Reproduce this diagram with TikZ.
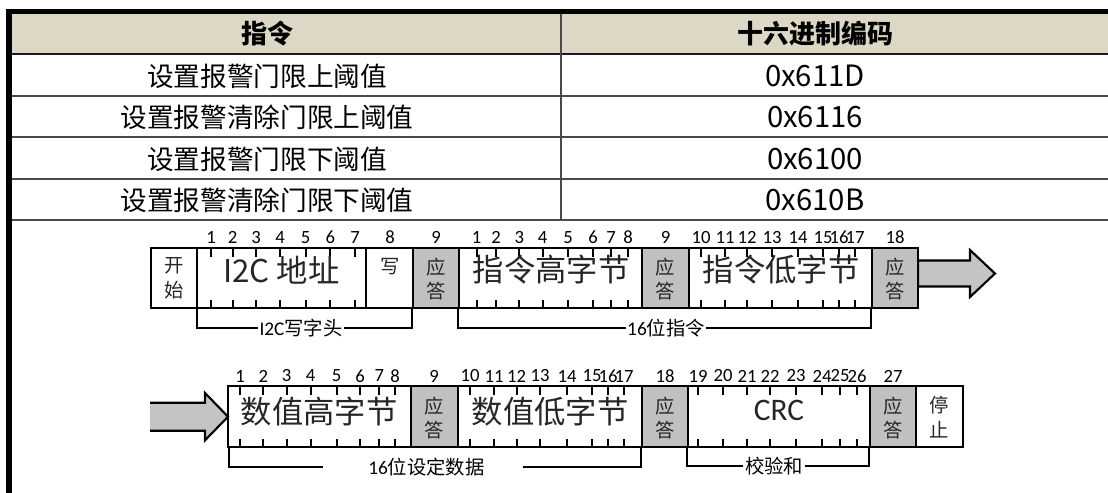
\documentclass[tikz,border=0pt]{standalone}
\usepackage{fontspec}
\setmainfont{Carlito}
\newfontfamily\cjk{Noto Sans CJK SC}
\usetikzlibrary{fit}
\definecolor{hdr}{HTML}{DDD8C5}
\definecolor{ackgray}{HTML}{C0C0C0}
\definecolor{arrgray}{HTML}{C4C4C4}
\definecolor{rulegray}{HTML}{4A4A4A}
\newcommand{\fsz}[1]{\fontsize{#1}{#1}\selectfont}
\begin{document}
\begin{tikzpicture}[x=0.75pt,y=-0.75pt,
  box/.style={draw=black, line width=1.6pt, inner sep=0pt},
  ackbox/.style={box, fill=ackgray},
  tick/.style={line width=1.5pt},
  brk/.style={line width=1.5pt},
  num/.style={font=\fsz{14}, inner sep=0pt},
  big/.style={font=\cjk\fsz{23.5}, inner sep=0pt, text=black!85},
  small/.style={font=\cjk\fsz{14.5}, align=center, inner sep=0pt, text=black!85},
  lbl/.style={font=\fsz{14.5}, inner sep=1pt},
  cell/.style={font=\cjk\fsz{20}, inner sep=0pt},
  hexcell/.style={font=\cjk\fsz{22}, inner sep=0pt},
  hcell/.style={font=\cjk\bfseries\fsz{19.5}, inner sep=0pt},
  arr/.style={fill=arrgray, draw=black, line width=1.6pt, line join=miter}]
\useasboundingbox (0,0) rectangle (1108,493);
% ---------------- table ----------------
\fill[hdr] (12,14) rectangle (1108,54);
\foreach \y in {96,137,179,220} \draw[rulegray, line width=1.1pt] (12,\y) -- (1108,\y);
\draw[black!90, line width=1.5pt] (12,54) -- (1108,54);
\draw[rulegray, line width=1.1pt] (561,14) -- (561,220);
\draw[line width=4.3pt, line join=miter] (9,493) -- (9,11.5) -- (1108,11.5);
\node[hcell] (h1) at (267,34) {指令};
\node[hcell] (h2) at (815,34) {十六进制编码};
\node[cell] (r1a) at (267,76) {设置报警门限上阈值};
\node[hexcell] (r1b) at (815,76) {0x611D};
\node[cell] (r2a) at (267,117) {设置报警清除门限上阈值};
\node[hexcell] (r2b) at (815,117) {0x6116};
\node[cell] (r3a) at (267,159) {设置报警门限下阈值};
\node[hexcell] (r3b) at (815,159) {0x6100};
\node[cell] (r4a) at (267,200) {设置报警清除门限下阈值};
\node[hexcell] (r4b) at (815,200) {0x610B};
% ---------------- row 1 ----------------
\draw[arr] (918,260.5) -- (970,260.5) -- (970,250) -- (995,273.5) -- (970,297) -- (970,286.5) -- (918,286.5) -- cycle;
\node[box, fit={(151,248)(197,308)}] (start) {};
\node[box, fit={(197,248)(366,308)}] (addr) {};
\node[box, fit={(366,248)(413,308)}] (wr) {};
\node[ackbox, fit={(413,248)(459,308)}] (ack1) {};
\node[box, fit={(459,248)(642,308)}] (cmdh) {};
\node[ackbox, fit={(642,248)(689,308)}] (ack2) {};
\node[box, fit={(689,248)(872,308)}] (cmdl) {};
\node[ackbox, fit={(872,248)(918,308)}] (ack3) {};
\foreach \x in {211,232.7,256,280,305.7,330.3,355,476.7,496,519.3,542.7,568,593,611,628,701,725,747,772,798,823,839,855} {
  \draw[tick] (\x,248) -- ++(0,9);
  \draw[tick] (\x,308) -- ++(0,-8);
}
\foreach \x/\t [count=\i] in {211/1,232.7/2,256/3,280/4,305.7/5,330.3/6,355/7,390/8,436/9,476.7/1,496/2,519.3/3,542.7/4,568/5,593/6,611/7,628/8,665.5/9,701/10,725/11,747/12,772/13,798/14,823/15,839/16,855/17,895/18}
  \node[num] (na\i) at (\x,237.5) {\t};
\node[small] (tstart) at (174,278.5) {开\\[4pt]始};
\node[small] (twr) at (390,267) {写};
\node[big] (taddr) at (281.5,270) {I2C {\cjk 地址}};
\node[small] (tack1) at (436,279) {应\\[4pt]答};
\node[big] (tcmdh) at (551,270) {指令高字节};
\node[small] (tack2) at (665.5,279) {应\\[4pt]答};
\node[big] (tcmdl) at (781,270) {指令低字节};
\node[small] (tack3) at (895,279) {应\\[4pt]答};
\node[lbl] (b1) at (301,328) {I2C{\cjk 写字头}};
\draw[brk] (addr.south west) ++(1,0) |- (b1.west);
\draw[brk] (b1.east) -| (ack1.south west);
\node[lbl] (b2) at (666,328) {16{\cjk 位指令}};
\draw[brk] (cmdh.south west) |- (b2.west);
\draw[brk] (b2.east) -| (ack3.south west);
% ---------------- row 2 ----------------
\fill[arrgray] (150,402.7) -- (205,402.7) -- (205,393) -- (228,416.7) -- (205,440.3) -- (205,430.7) -- (150,430.7) -- cycle;
\draw[line width=1.6pt, line join=miter] (150,402.7) -- (205,402.7) -- (205,393) -- (228,416.7) -- (205,440.3) -- (205,430.7) -- (150,430.7);
\node[box, fit={(228,386)(411,447)}] (dh) {};
\node[ackbox, fit={(411,386)(458,447)}] (ack4) {};
\node[box, fit={(458,386)(642,447)}] (dl) {};
\node[ackbox, fit={(642,386)(688,447)}] (ack5) {};
\node[box, fit={(688,386)(870,447)}] (crc) {};
\node[ackbox, fit={(870,386)(916,447)}] (ack6) {};
\node[box, fit={(916,386)(963,447)}] (stop) {};
\foreach \x in {240,263.3,286.7,310.7,336.7,360,379.3,395,470,494,516.7,540,567,592,608,624,698,723,747,770,796,822,840,857} {
  \draw[tick] (\x,386) -- ++(0,9);
  \draw[tick] (\x,447) -- ++(0,-8);
}
\foreach \x/\t [count=\i] in {240/1,263.3/2,286.7/3,310.7/4,336.7/5,360/6,379.3/7,395/8,434/9,470/10,494/11,516.7/12,540/13,567/14,592/15,608/16,624/17,665/18,698/19,723/20,747/21,770/22,796/23,822/24,840/25,857/26,893/27}
  \node[num] (nb\i) at (\x,376) {\t};
\node[big] (tdh) at (319,412) {数值高字节};
\node[small] (tack4) at (434.5,418) {应\\[4pt]答};
\node[big] (tdl) at (550,412) {数值低字节};
\node[small] (tack5) at (665,418) {应\\[4pt]答};
\node[big, font=\fsz{23.5}] (tcrc) at (779,410) {CRC};
\node[small] (tack6) at (893,418) {应\\[4pt]答};
\node[small] (tstop) at (939,417) {停\\[4pt]止};
\node[lbl] (b3) at (426.5,467) {16{\cjk 位设定数据}};
\coordinate (b3l) at (323,466.7);
\coordinate (b3r) at (523,466.7);
\draw[brk] (dh.south west) ++(2,0) |- (b3l);
\draw[brk] (b3r) -| (ack5.south west);
\node[lbl] (b4) at (774,466) {\cjk 校验和};
\draw[brk] (crc.south west) |- (b4.west);
\draw[brk] (b4.east) -| (ack6.south west);
\end{tikzpicture}
\end{document}
